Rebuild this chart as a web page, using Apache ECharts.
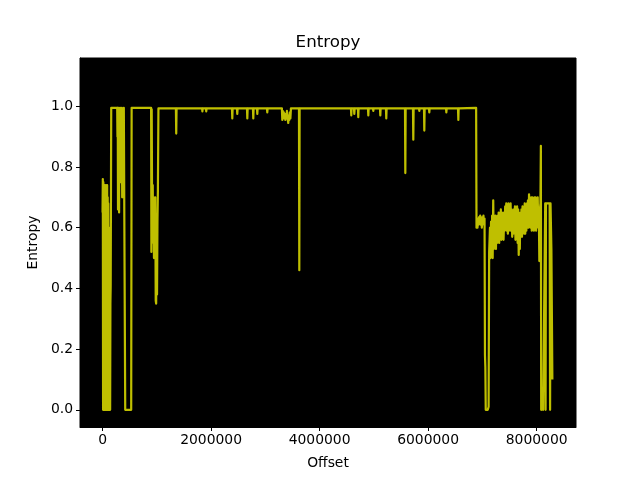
<!DOCTYPE html>
<html>
<head>
<meta charset="utf-8">
<script src="https://cdn.jsdelivr.net/npm/echarts@6/dist/echarts.min.js"></script>
<style>
html,body{margin:0;padding:0;background:#fff;}
#chart{width:640px;height:480px;}
</style>
</head>
<body>
<div id="chart"></div>
<script>
var chartTitle = "Entropy";
var xLabel = "Offset";
var yLabel = "Entropy";
var xTicks = [0, 2000000, 4000000, 6000000, 8000000];
var yTicks = [0, 0.2, 0.4, 0.6, 0.8, 1.0];

// Offsets (bytes)
var offsets = [
  // start band
  0, 5000, 10000, 15000, 20000, 25000, 30000, 35000, 40000, 45000,
  50000, 55000, 60000, 65000, 70000, 75000, 80000, 85000, 90000, 95000,
  100000, 105000, 110000, 115000, 120000, 125000, 130000, 135000, 140000, 145000,
  150000, 160000,
  // first plateau
  270000, 275000, 280000, 285000, 290000, 295000, 300000, 305000, 310000, 318000,
  325000, 332000, 340000, 348000, 355000, 362000, 370000, 378000, 385000, 392000,
  410000, 418000, 528000, 536000,
  // second plateau end
  895000, 900000, 906000, 912000, 918000, 925000, 932000, 940000, 948000, 956000,
  964000, 972000, 980000, 988000, 996000, 1004000, 1012000, 1020000, 1030000, 1045000,
  // long plateau
  1352000, 1358000, 1364000, 1835000, 1840000, 1846000, 1905000, 1911000, 1917000,
  2385000, 2391000, 2397000, 2477000, 2483000, 2489000, 2662000, 2668000, 2674000,
  2772000, 2778000, 2784000, 2846000, 2852000, 2858000, 3030000, 3036000, 3042000,
  3305000, 3313000, 3320000, 3330000, 3340000, 3350000, 3360000, 3368000, 3378000, 3388000,
  3398000, 3410000, 3423000, 3432000, 3442000, 3452000, 3462000, 3472000,
  3620000, 3626000, 3632000,
  4578000, 4584000, 4590000, 4634000, 4640000, 4646000, 4707000, 4713000, 4719000,
  4892000, 4898000, 4904000, 4984000, 4990000, 4996000, 5113000, 5119000, 5125000,
  5223000, 5229000, 5235000, 5574000, 5580000, 5586000, 5721000, 5727000, 5733000,
  5832000, 5838000, 5844000, 5924000, 5930000, 5936000, 6016000, 6022000, 6028000,
  6330000, 6336000, 6342000, 6551000, 6557000, 6563000, 6885000, 6892000,
  // after the drop
  6900000, 6910000, 6920000, 6930000, 6940000, 6950000, 6960000, 6970000, 6980000, 6990000,
  7000000, 7010000, 7020000, 7030000, 7040000, 7048000, 7055000, 7062000, 7080000, 7100000,
  7115000, 7125000,
  // noisy band
  7130000, 7140000, 7150000, 7160000, 7170000, 7180000, 7190000, 7200000, 7210000, 7220000,
  7230000, 7240000, 7250000, 7260000, 7270000, 7280000, 7290000, 7300000, 7310000, 7320000,
  7330000, 7340000, 7350000, 7360000, 7370000, 7380000, 7390000, 7400000, 7410000, 7420000,
  7430000, 7440000, 7450000, 7460000, 7470000, 7480000, 7490000, 7500000, 7510000, 7520000,
  7530000, 7540000, 7550000, 7560000, 7570000, 7580000, 7590000, 7600000, 7610000, 7620000,
  7630000, 7640000, 7650000, 7660000, 7670000, 7680000, 7690000, 7700000, 7710000, 7720000,
  7730000, 7740000, 7750000, 7760000, 7770000, 7780000, 7790000, 7800000, 7810000, 7820000,
  7830000, 7840000, 7850000, 7860000, 7870000, 7880000, 7890000, 7900000, 7910000, 7920000,
  7930000, 7940000, 7950000, 7960000, 7970000, 7980000, 7990000, 8000000, 8010000, 8020000,
  8030000, 8040000, 8050000, 8060000,
  // tail
  8070000, 8078000, 8084000, 8100000, 8110000, 8120000, 8150000, 8158000, 8165000, 8172000,
  8240000, 8248000, 8256000, 8264000, 8272000, 8280000, 8290000
];

// Entropy values (same order as offsets)
var entropy = [
  0.65, 0.76, 0.00, 0.75, 0.00, 0.74, 0.00, 0.70, 0.00, 0.74,
  0.00, 0.73, 0.00, 0.74, 0.00, 0.72, 0.00, 0.74, 0.00, 0.70,
  0.00, 0.68, 0.00, 0.60, 0.00, 0.55, 0.00, 0.50, 0.00, 0.35,
  0.41, 0.995,
  0.995, 0.90, 0.995, 0.66, 0.99, 0.78, 0.995, 0.65, 0.99, 0.80,
  0.995, 0.75, 0.99, 0.85, 0.995, 0.70, 0.93, 0.99, 0.76, 0.995,
  0.995, 0.00, 0.00, 0.995,
  0.995, 0.52, 0.99, 0.73, 0.60, 0.74, 0.55, 0.70, 0.50, 0.65,
  0.60, 0.70, 0.36, 0.35, 0.55, 0.38, 0.62, 0.72, 0.993, 0.993,
  0.993, 0.91, 0.993, 0.993, 0.983, 0.993, 0.993, 0.983, 0.993,
  0.993, 0.96, 0.993, 0.993, 0.975, 0.993, 0.993, 0.96, 0.993,
  0.993, 0.96, 0.993, 0.993, 0.975, 0.993, 0.993, 0.98, 0.993,
  0.993, 0.955, 0.985, 0.96, 0.98, 0.965, 0.975, 0.955, 0.97, 0.96,
  0.985, 0.96, 0.945, 0.97, 0.955, 0.98, 0.96, 0.993,
  0.993, 0.46, 0.993,
  0.993, 0.97, 0.993, 0.993, 0.975, 0.993, 0.993, 0.964, 0.993,
  0.993, 0.97, 0.993, 0.993, 0.985, 0.993, 0.993, 0.97, 0.993,
  0.993, 0.96, 0.993, 0.993, 0.78, 0.993, 0.993, 0.89, 0.993,
  0.993, 0.985, 0.993, 0.993, 0.92, 0.993, 0.993, 0.98, 0.993,
  0.993, 0.98, 0.993, 0.993, 0.955, 0.993, 0.995, 0.60,
  0.63, 0.60, 0.63, 0.61, 0.635, 0.62, 0.64, 0.61, 0.63, 0.60,
  0.635, 0.62, 0.64, 0.61, 0.63, 0.18, 0.14, 0.00, 0.00, 0.00,
  0.01, 0.52,
  0.52, 0.60, 0.50, 0.62, 0.51, 0.64, 0.50, 0.69, 0.53, 0.63,
  0.54, 0.64, 0.53, 0.62, 0.55, 0.64, 0.56, 0.65, 0.55, 0.63,
  0.57, 0.66, 0.56, 0.64, 0.57, 0.65, 0.56, 0.62, 0.59, 0.67,
  0.60, 0.68, 0.59, 0.65, 0.58, 0.68, 0.60, 0.66, 0.59, 0.68,
  0.61, 0.66, 0.57, 0.64, 0.58, 0.66, 0.59, 0.67, 0.56, 0.65,
  0.57, 0.67, 0.55, 0.66, 0.51, 0.64, 0.53, 0.65, 0.58, 0.66,
  0.57, 0.67, 0.59, 0.66, 0.58, 0.68, 0.58, 0.66, 0.59, 0.68,
  0.60, 0.69, 0.60, 0.71, 0.61, 0.68, 0.60, 0.70, 0.59, 0.70,
  0.61, 0.68, 0.59, 0.70, 0.60, 0.70, 0.59, 0.69, 0.61, 0.70,
  0.60, 0.66, 0.49, 0.66,
  0.68, 0.87, 0.00, 0.00, 0.02, 0.00, 0.00, 0.68, 0.00, 0.68,
  0.68, 0.00, 0.68, 0.68, 0.53, 0.53, 0.10
];

if (offsets.length !== entropy.length) {
  console.error('length mismatch', offsets.length, entropy.length);
}
var points = offsets.map(function (o, i) { return [o, entropy[i]]; });

var font = "DejaVu Sans";
var chart = echarts.init(document.getElementById('chart'), null, {renderer: 'canvas'});
chart.setOption({
  animation: false,
  backgroundColor: '#ffffff',
  title: {
    text: chartTitle,
    left: 328,
    top: 34,
    padding: 0,
    textAlign: 'center',
    textStyle: {fontFamily: font, fontSize: 16.7, fontWeight: 'normal', color: '#000'}
  },
  grid: {
    left: 80, right: 64, top: 58, bottom: 53,
    show: true, backgroundColor: '#000000', borderColor: '#000000', borderWidth: 1
  },
  xAxis: {
    type: 'value',
    min: -415500, max: 8725500,
    name: xLabel, nameLocation: 'middle', nameGap: 29,
    nameTextStyle: {fontFamily: font, fontSize: 13.9, color: '#000'},
    axisLine: {show: true, onZero: false, lineStyle: {color: '#000', width: 1}},
    axisTick: {show: true, inside: false, length: 4, customValues: xTicks, lineStyle: {color: '#000'}},
    axisLabel: {show: true, customValues: xTicks, margin: 6, fontFamily: font, fontSize: 13.9, color: '#000',
      formatter: function (v) { return String(Math.round(v)); }},
    splitLine: {show: false}
  },
  yAxis: {
    type: 'value',
    min: -0.0566, max: 1.159,
    name: yLabel, nameLocation: 'middle', nameGap: 36, nameRotate: 90,
    nameTextStyle: {fontFamily: font, fontSize: 13.9, color: '#000'},
    axisLine: {show: true, onZero: false, lineStyle: {color: '#000', width: 1}},
    axisTick: {show: true, inside: false, length: 4, customValues: yTicks, lineStyle: {color: '#000'}},
    axisLabel: {show: true, customValues: yTicks, margin: 7, fontFamily: font, fontSize: 13.9, color: '#000',
      formatter: function (v) { return v.toFixed(1); }},
    splitLine: {show: false}
  },
  series: [{
    type: 'line',
    data: points,
    showSymbol: false,
    symbol: 'none',
    lineStyle: {color: '#bfbf00', width: 2.2, join: 'round'},
    itemStyle: {color: '#bfbf00'}
  }]
});
</script>
</body>
</html>
